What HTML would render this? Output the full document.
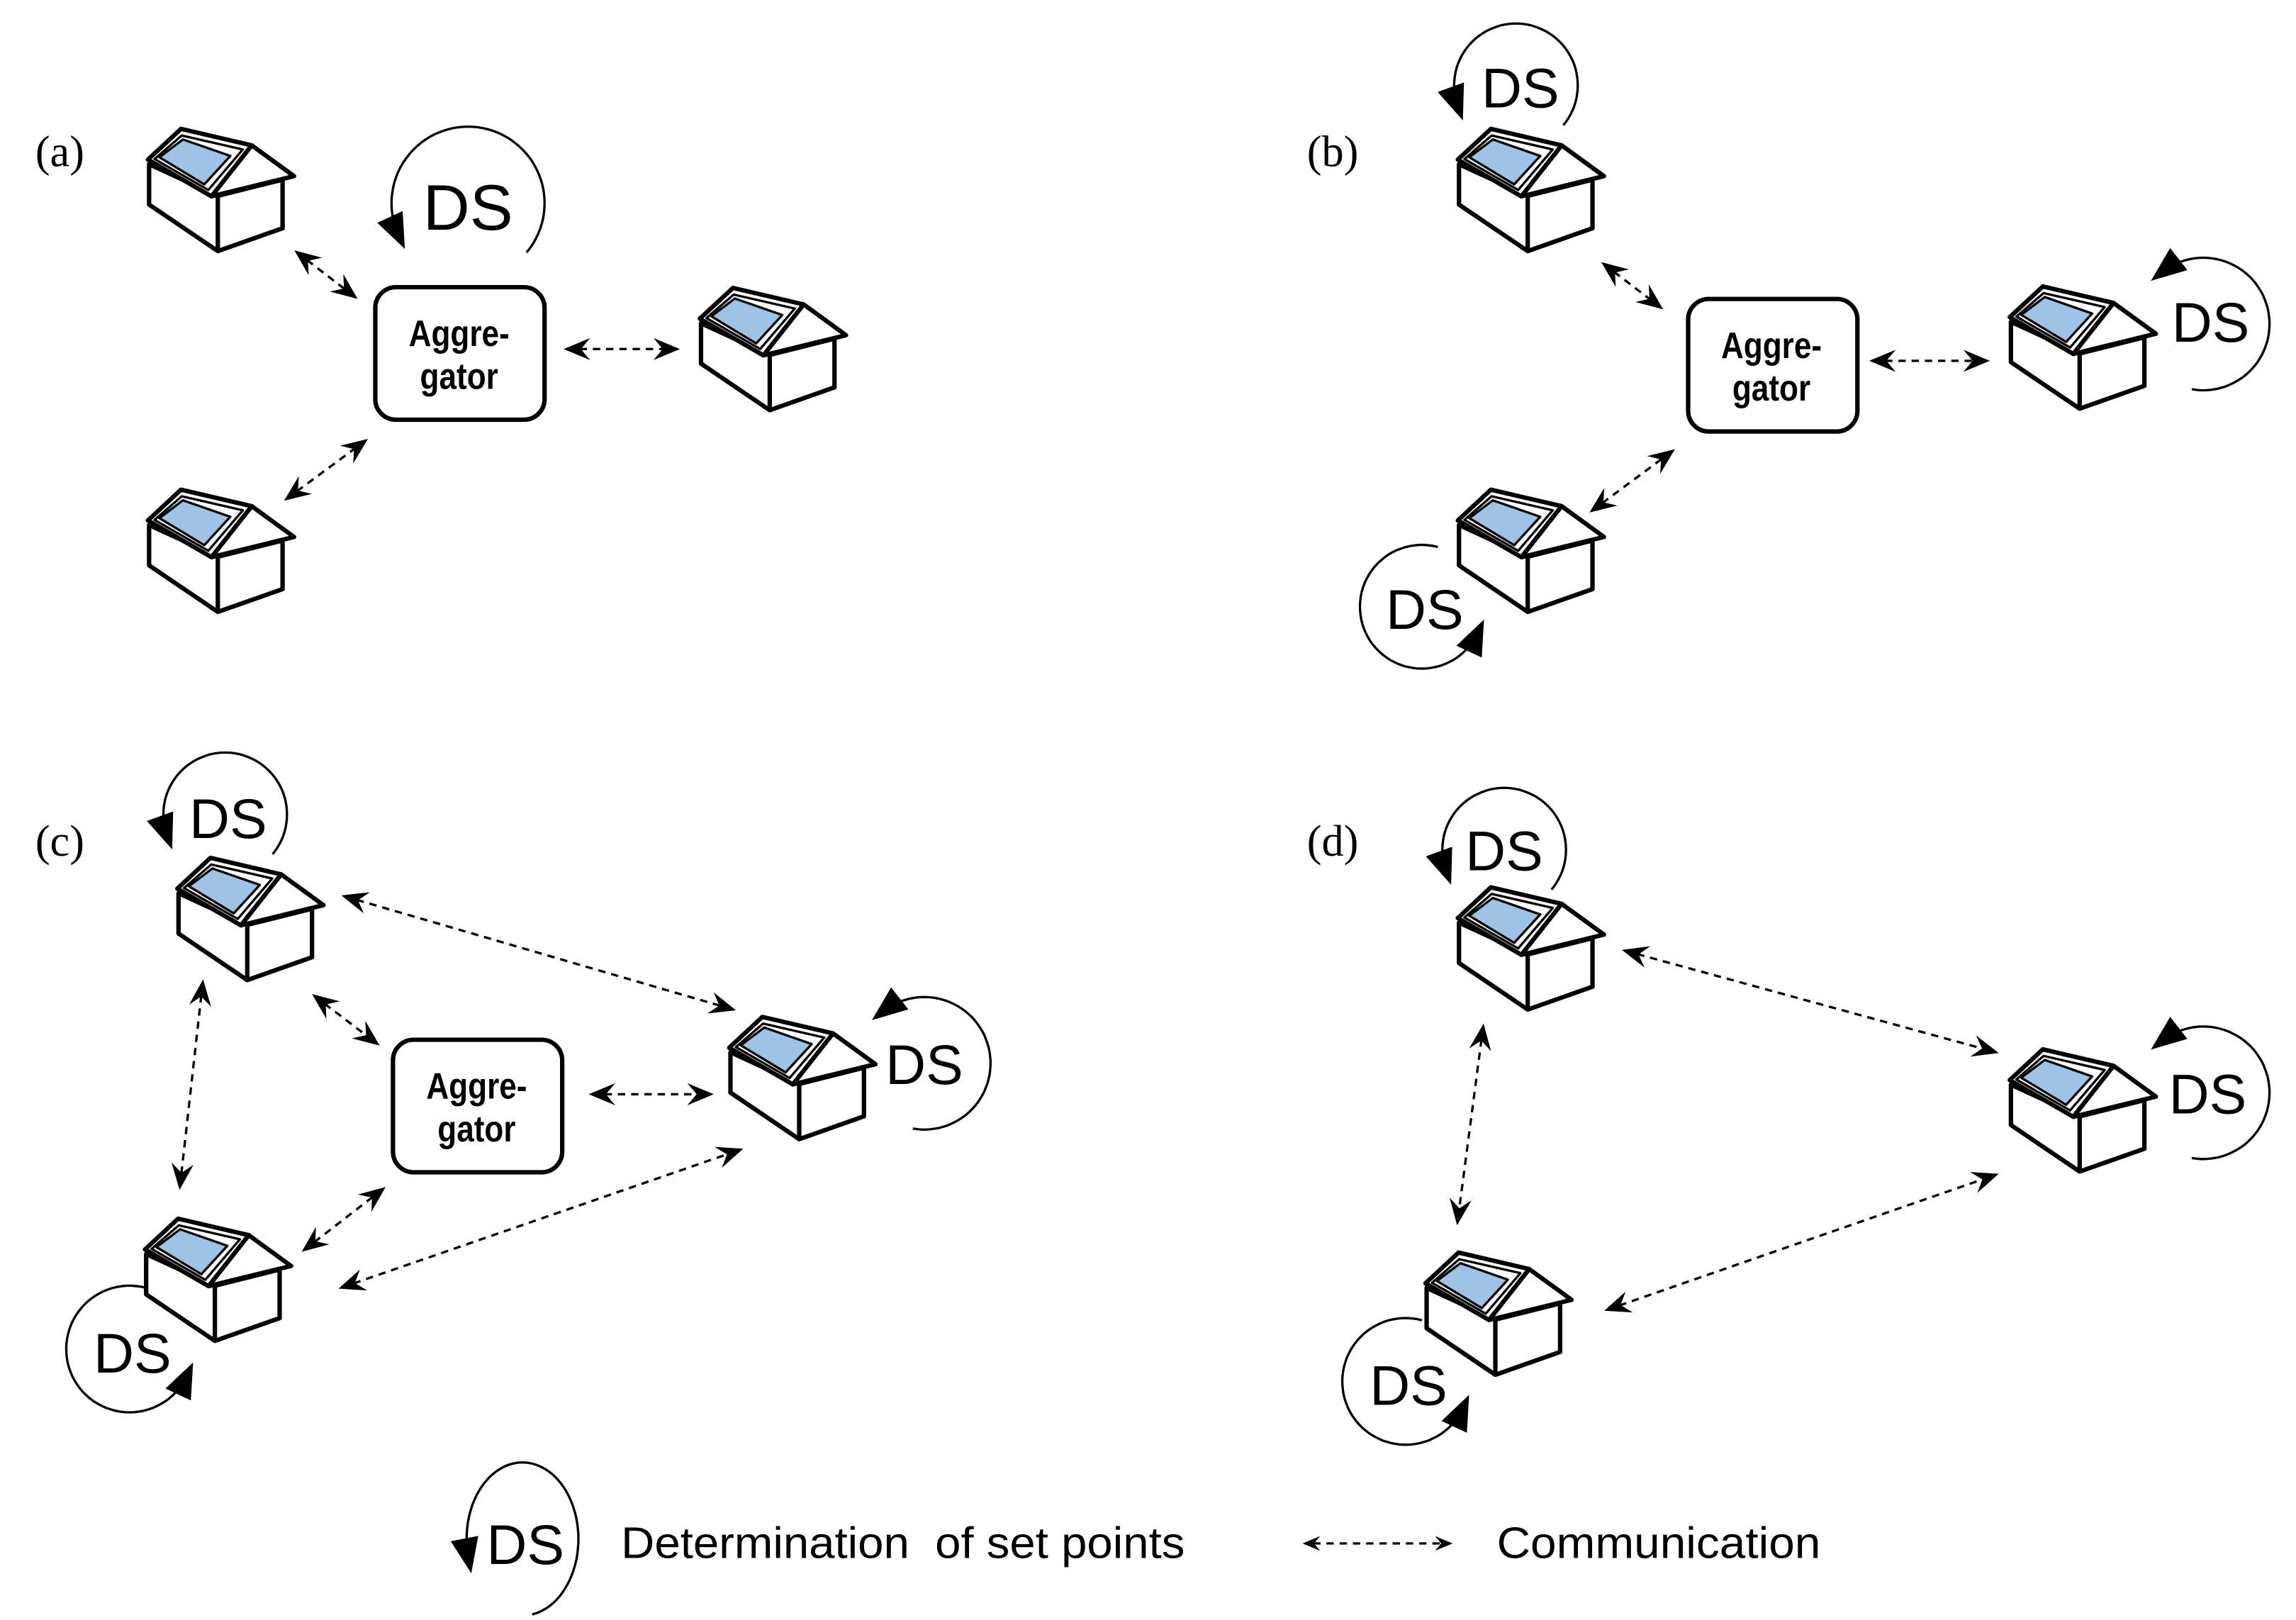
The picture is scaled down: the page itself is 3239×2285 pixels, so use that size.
<!DOCTYPE html>
<html><head><meta charset="utf-8"><style>
html,body{margin:0;padding:0;background:#fff}
svg{display:block}
.ds{font-family:"Liberation Sans",sans-serif;font-size:38px;text-anchor:middle}
.ag{font-family:"Liberation Sans",sans-serif;font-weight:bold;font-size:25px;text-anchor:middle}
.lb{font-family:"Liberation Serif",serif;font-size:30px}
.lg{font-family:"Liberation Sans",sans-serif;font-size:30px}
</style></head><body>
<svg id="s" width="3239" height="2285" viewBox="0 0 1560 1100" preserveAspectRatio="none" xmlns="http://www.w3.org/2000/svg">
<defs>
<g id="h" stroke="#000" stroke-width="3" stroke-linejoin="round" fill="#fff">
<polygon points="1.3,26.5 1.3,53.9 48,85.5 92,70 92,37 48,48"/>
<line x1="48" y1="48" x2="48" y2="85.5"/>
<polygon points="71,13.7 99.8,34.6 43.7,48.3"/>
<polygon points="0.5,23.4 23,2.5 71,13.7 43.7,48.3"/>
<polygon points="5,23 23.5,7 65,16.5 41.5,44" fill="none" stroke-width="1.6"/>
<polygon points="8.3,21.8 24.3,9.7 56.5,20.9 38.8,40.2" fill="#9ec3e6" stroke-width="1.6"/>
</g>
</defs>
<use href="#h" x="100" y="85"/><use href="#h" x="475" y="193"/><use href="#h" x="100" y="330"/>
<use href="#h" x="990" y="85"/><use href="#h" x="1365" y="192"/><use href="#h" x="990" y="330"/>
<use href="#h" x="120" y="580"/><use href="#h" x="495" y="688"/><use href="#h" x="98" y="825"/>
<use href="#h" x="990" y="600"/><use href="#h" x="1365" y="710"/><use href="#h" x="968" y="848"/>
<g fill="#fff" stroke="#000" stroke-width="3">
<rect x="255" y="195" width="115" height="90" rx="14"/>
<rect x="1147" y="203" width="115" height="90" rx="14"/>
<rect x="267" y="706" width="115" height="90" rx="14"/>
</g>
<g transform="scale(0.85,1)">
<text class="ag" x="367" y="235">Aggre-</text><text class="ag" x="367" y="264">gator</text>
<text class="ag" x="1416" y="243">Aggre-</text><text class="ag" x="1416" y="272">gator</text>
<text class="ag" x="381" y="746">Aggre-</text><text class="ag" x="381" y="775">gator</text>
</g>
<text class="lb" x="24" y="113">(a)</text><text class="lb" x="888" y="113">(b)</text>
<text class="lb" x="24" y="581">(c)</text><text class="lb" x="888" y="581">(d)</text>
<text class="ds" x="318" y="156" style="font-size:44px">DS</text>
<text class="ds" x="1033" y="73">DS</text><text class="ds" x="1502" y="232">DS</text><text class="ds" x="968" y="427">DS</text>
<text class="ds" x="155" y="569">DS</text><text class="ds" x="628" y="736">DS</text><text class="ds" x="90" y="932">DS</text>
<text class="ds" x="1022" y="591">DS</text><text class="ds" x="1500" y="756">DS</text><text class="ds" x="957" y="954">DS</text>
<text class="ds" x="357" y="1062">DS</text>
<text class="lg" x="422" y="1058" textLength="383" lengthAdjust="spacingAndGlyphs">Determination&#160; of set points</text>
<text class="lg" x="1017" y="1058" textLength="220" lengthAdjust="spacingAndGlyphs">Communication</text>
<g id="dyn"></g>
</svg>
<script>
var g=document.getElementById('dyn'),o='';
function tri(x,y,dx,dy,L,W,notch){var n=Math.hypot(dx,dy);dx/=n;dy/=n;var bx=x-dx*L,by=y-dy*L,nx=x-dx*L*(notch?0.65:1),ny=y-dy*L*(notch?0.65:1);
return '<polygon points="'+x+','+y+' '+(bx-dy*W/2)+','+(by+dx*W/2)+' '+nx+','+ny+' '+(bx+dy*W/2)+','+(by-dx*W/2)+'" fill="#000"/>';}
function arr(x1,y1,x2,y2,L,W){L=L||18;W=W||15;var dx=x2-x1,dy=y2-y1,n=Math.hypot(dx,dy),ux=dx/n,uy=dy/n;
o+='<line x1="'+(x1+ux*L*0.6)+'" y1="'+(y1+uy*L*0.6)+'" x2="'+(x2-ux*L*0.6)+'" y2="'+(y2-uy*L*0.6)+'" stroke="#000" stroke-width="1.6" stroke-dasharray="5,4"/>';
o+=tri(x2,y2,dx,dy,L,W,1)+tri(x1,y1,-dx,-dy,L,W,1);}
function ds(cx,cy,rx,ry,a0,a1){var p='',N=60;for(var i=0;i<=N;i++){var a=(a0+(a1-a0)*i/N)*Math.PI/180;p+=(i?'L':'M')+(cx+rx*Math.cos(a)).toFixed(1)+','+(cy+ry*Math.sin(a)).toFixed(1);}
o+='<path d="'+p+'" fill="none" stroke="#000" stroke-width="1.6"/>';
var a=a1*Math.PI/180,s=a1<a0?-1:1,x=cx+rx*Math.cos(a),y=cy+ry*Math.sin(a);
var tx=-rx*Math.sin(a)*s,ty=ry*Math.cos(a)*s,m=Math.hypot(tx,ty);
o+=tri(x+tx/m*10,y+ty/m*10,tx,ty,24,19,0);}
ds(318,138,52,52,40,-205);
ds(1030,58,42,42,40,-200);ds(1497,220,45,45,100,-128);ds(966,412,42,42,-75,-335);
ds(153,553,42,42,40,-200);ds(628,722,45,45,100,-128);ds(88,916,43,43,-75,-335);
ds(1022,577,42,42,40,-200);ds(1497,742,45,45,100,-128);ds(955,938,43,43,-75,-335);
ds(355,1045,38,52,80,-195);
arr(200,170,243,203);arr(383,237,462,237);arr(193,340,250,298);
arr(1088,178,1130,210);arr(1270,245,1352,245);arr(1080,348,1138,305);
arr(232,608,500,686);arr(212,675,258,710);arr(400,743,485,743);arr(138,665,122,808);arr(205,850,262,806);arr(230,875,505,780);
arr(1102,645,1358,715);arr(1008,695,990,832);arr(1090,890,1358,797);
arr(885,1048,987,1048,12,10);
g.innerHTML=o;
</script>
</body></html>
